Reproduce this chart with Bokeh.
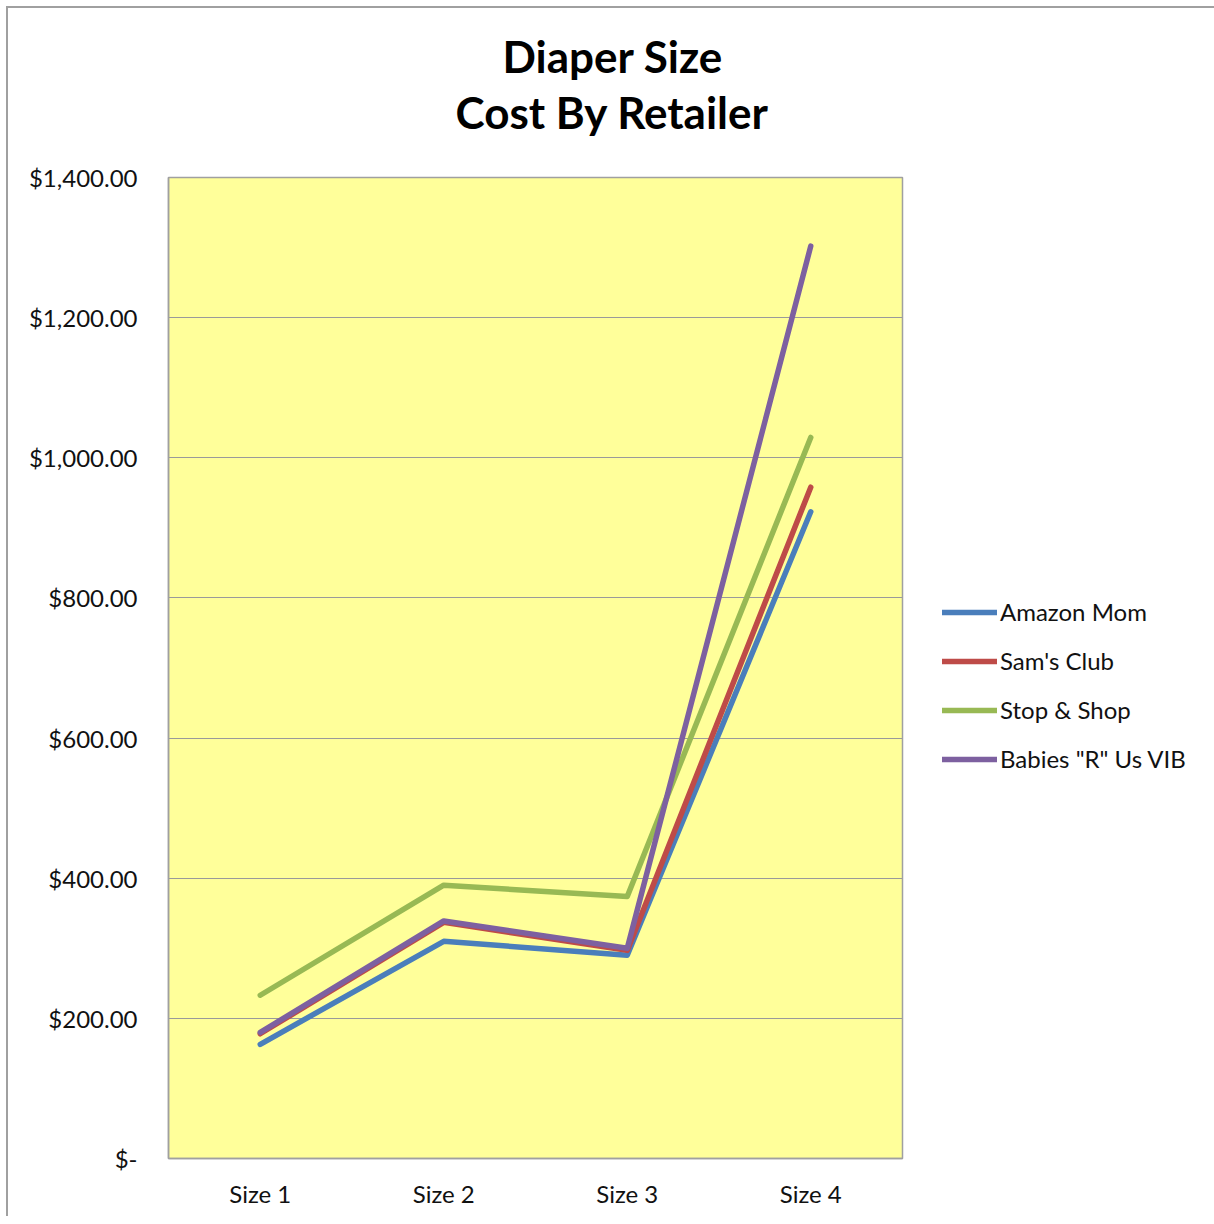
from bokeh.plotting import figure
from bokeh.models import Legend, LegendItem, Title, FixedTicker, Range1d
from bokeh.embed import file_html
from bokeh.resources import INLINE

categories = ["Size 1", "Size 2", "Size 3", "Size 4"]
amazon_mom = [163, 310, 290, 923]
sams_club = [178, 337, 297, 958]
stop_shop = [233, 390, 374, 1029]
babies_r_us = [180, 339, 300, 1302]
series_names = ["Amazon Mom", "Sam's Club", "Stop & Shop", 'Babies "R" Us VIB']
y_ticks = [0, 200, 400, 600, 800, 1000, 1200, 1400]
y_tick_labels = ["$-", "$200.00", "$400.00", "$600.00", "$800.00", "$1,000.00", "$1,200.00", "$1,400.00"]

colors = ["#4A7EBB", "#BE4B48", "#98B954", "#7D60A0"]
FONT = "Lato"

p = figure(frame_width=734, frame_height=981, output_backend="svg", toolbar_location=None,
           x_range=Range1d(0.5, 4.5), y_range=Range1d(0, 1400),
           min_border_left=160, min_border_top=169, min_border_bottom=58, min_border_right=0)
p.background_fill_color = "#FFFF9A"
p.border_fill_color = "white"
p.outline_line_color = "#A0A0A0"
p.outline_line_width = 1.5

xs = list(range(1, len(categories) + 1))
renderers = []
for vals, c in zip([amazon_mom, sams_club, stop_shop, babies_r_us], colors):
    r = p.line(xs, vals, line_color=c, line_width=5.5, line_cap="round", line_join="round")
    renderers.append(r)

p.xgrid.visible = False
p.ygrid.grid_line_color = "#9A9A9A"
p.ygrid.grid_line_width = 1.2

p.xaxis.ticker = FixedTicker(ticks=xs)
p.xaxis.major_label_overrides = {i: c for i, c in zip(xs, categories)}
p.yaxis.ticker = FixedTicker(ticks=y_ticks)
p.yaxis.major_label_overrides = {t: l for t, l in zip(y_ticks, y_tick_labels)}
for ax in [p.xaxis[0], p.yaxis[0]]:
    ax.axis_line_color = "#A0A0A0"
    ax.axis_line_width = 1.5
    ax.major_tick_line_color = None
    ax.minor_tick_line_color = None
    ax.major_label_text_font = FONT
    ax.major_label_text_font_size = "24px"
    ax.major_label_text_color = "#111111"
p.yaxis.major_label_standoff = 25
p.xaxis.major_label_standoff = 14

legend = Legend(items=[LegendItem(label=n, renderers=[r]) for n, r in zip(series_names, renderers)],
                location=(40, 385), glyph_width=55, glyph_height=20, label_standoff=3,
                spacing=20, label_text_font=FONT, label_text_font_size="24px",
                label_text_color="#111111", border_line_color=None, background_fill_alpha=0,
                padding=0, margin=0)
p.add_layout(legend, "right")

p.title.visible = False
t2 = Title(text="Cost By Retailer", text_font=FONT, text_font_size="44px", text_font_style="bold",
           align="left", offset=287, standoff=80, text_color="black")
t1 = Title(text="Diaper Size", text_font=FONT, text_font_size="44px", text_font_style="bold",
           align="left", offset=334, standoff=-76, text_color="black")
p.add_layout(t2, "above")
p.add_layout(t1, "above")

p.styles = {"margin-left": "6px", "margin-top": "6px",
            "border-left": "2px solid #A0A0A0", "border-top": "2px solid #A0A0A0"}

open("out.html", "w").write(file_html(p, INLINE))
